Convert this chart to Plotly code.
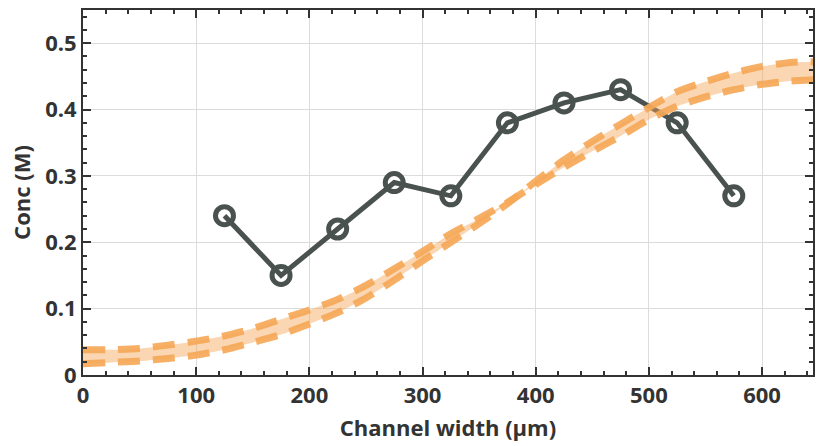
import plotly.graph_objects as go

# measured data
x_meas = [125, 175, 225, 275, 325, 375, 425, 475, 525, 575]
y_meas = [0.24, 0.15, 0.22, 0.29, 0.27, 0.38, 0.41, 0.43, 0.38, 0.27]

# model band (two bounding curves)
x_model = [0, 25, 50, 75, 100, 125, 150, 175, 200, 225, 250, 275, 300, 325,
           350, 375, 400, 425, 450, 475, 500, 525, 550, 575, 600, 625, 645]
y_model_a = [0.038, 0.038, 0.040, 0.045, 0.051, 0.059, 0.070, 0.084, 0.098,
             0.114, 0.135, 0.160, 0.186, 0.213, 0.236, 0.260, 0.287, 0.313,
             0.337, 0.360, 0.385, 0.405, 0.419, 0.430, 0.438, 0.443, 0.445]
y_model_b = [0.017, 0.019, 0.021, 0.025, 0.030, 0.038, 0.049, 0.061, 0.077,
             0.094, 0.116, 0.143, 0.172, 0.200, 0.228, 0.258, 0.292, 0.324,
             0.352, 0.378, 0.403, 0.427, 0.442, 0.455, 0.465, 0.471, 0.472]

x_ticks = [0, 100, 200, 300, 400, 500, 600]
y_ticks = [0, 0.1, 0.2, 0.3, 0.4, 0.5]

dark = "#4a524f"
text_col = "#333333"
dash_col = "rgba(245,168,88,0.92)"
fill_col = "rgba(245,165,85,0.45)"

fig = go.Figure()

fig.add_trace(go.Scatter(
    x=x_meas, y=y_meas, mode="lines+markers",
    line=dict(color=dark, width=5),
    marker=dict(symbol="circle-open", size=18, color=dark,
                line=dict(color=dark, width=5)),
    showlegend=False,
))

fig.add_trace(go.Scatter(
    x=x_model, y=y_model_a, mode="lines",
    line=dict(color=dash_col, width=7, dash="22px,13px", shape="spline", smoothing=0.6),
    showlegend=False,
))
fig.add_trace(go.Scatter(
    x=x_model, y=y_model_b, mode="lines",
    line=dict(color=dash_col, width=7, dash="22px,13px", shape="spline", smoothing=0.6),
    fill="tonexty", fillcolor=fill_col,
    showlegend=False,
))

axis_common = dict(
    showline=True, linecolor=text_col, linewidth=2, mirror="ticks",
    ticks="inside", ticklen=8, tickwidth=2, tickcolor=text_col,
    showgrid=True, gridcolor="#dcdcdc", gridwidth=1, zeroline=False,
    automargin=False,
    tickfont=dict(family="Open Sans", size=22, color=text_col, weight="bold"),
)

fig.update_xaxes(
    range=[0, 645], tickvals=x_ticks,
    minor=dict(dtick=20, ticks="inside", ticklen=4, tickwidth=1.5,
               tickcolor=text_col, showgrid=False),
    title=dict(text="Channel width (µm)", standoff=12,
               font=dict(family="Open Sans", size=22, color=text_col, weight="bold")),
    **axis_common,
)
fig.update_yaxes(
    range=[0, 0.55], tickvals=y_ticks,
    minor=dict(dtick=0.02, ticks="inside", ticklen=4, tickwidth=1.5,
               tickcolor=text_col, showgrid=False),
    title=dict(text="Conc (M)", standoff=8,
               font=dict(family="Open Sans", size=22, color=text_col, weight="bold")),
    **axis_common,
)

fig.update_layout(
    width=816, height=446,
    margin=dict(l=83, r=3, t=10, b=71),
    plot_bgcolor="white", paper_bgcolor="white",
)

fig.write_html(
    "out.html",
    config={"displayModeBar": False},
    post_script="document.body.style.margin='0';document.body.style.overflow='hidden';",
)
